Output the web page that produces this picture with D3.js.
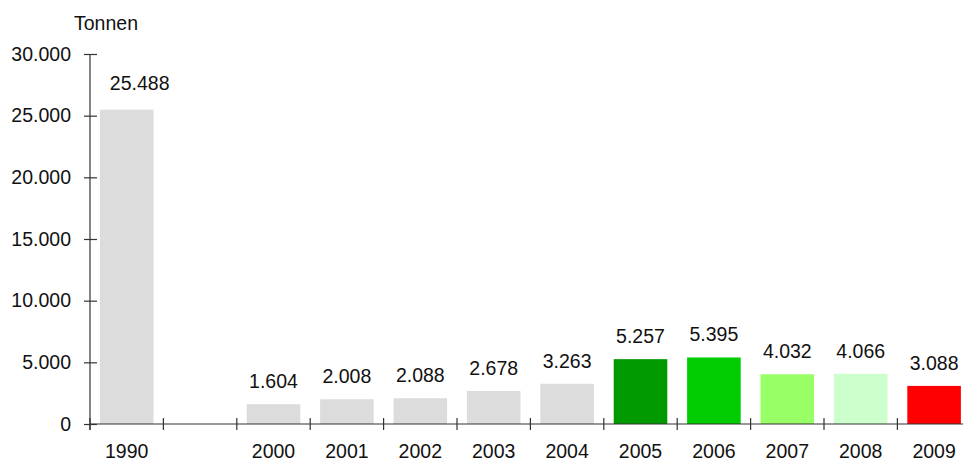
<!DOCTYPE html>
<html><head><meta charset="utf-8">
<script src="https://cdn.jsdelivr.net/npm/d3@7"></script>
<style>
html,body{margin:0;padding:0;background:#fff;overflow:hidden}
text{font-family:"Liberation Sans",Arial,Helvetica,sans-serif;fill:#111}
</style></head><body>
<svg id="c" width="963" height="462"></svg>
<script>
const categories = ["1990", "", "2000", "2001", "2002", "2003", "2004", "2005", "2006", "2007", "2008", "2009"];
const values = [25488, null, 1604, 2008, 2088, 2678, 3263, 5257, 5395, 4032, 4066, 3088];
const colors = ["#dcdcdc", null, "#dcdcdc", "#dcdcdc", "#dcdcdc", "#dcdcdc", "#dcdcdc", "#009900", "#00cc00", "#99ff66", "#ccffcc", "#ff0000"];
const yTicks = [0, 5000, 10000, 15000, 20000, 25000, 30000];
const yTitle = "Tonnen";

const loc = d3.formatLocale({decimal: ",", thousands: ".", grouping: [3], currency: ["", ""]});
const fmt = loc.format(",d");

const svg = d3.select("#c");
const x0 = 90, yTop = 54, yBot = 424, step = 73.4;
const x = d3.scaleBand().domain(d3.range(categories.length)).range([x0, x0 + step * categories.length]).paddingInner(0.27).paddingOuter(0.135);
const y = d3.scaleLinear().domain([0, 30000]).range([yBot, yTop]);
const fs = 19.5;

// bars
const idx = d3.range(categories.length).filter(i => values[i] != null);
svg.append("g").selectAll("rect").data(idx).join("rect")
  .attr("x", i => x(i)).attr("width", x.bandwidth())
  .attr("y", i => y(values[i])).attr("height", i => y(0) - y(values[i]))
  .attr("fill", i => colors[i]);

// value labels
svg.append("g").selectAll("text").data(idx).join("text")
  .attr("x", i => x(i) + x.bandwidth() / 2 + (i === 0 ? 13 : 0))
  .attr("y", i => y(values[i]) - (i === 0 ? 20 : 16))
  .attr("text-anchor", "middle").attr("font-size", fs)
  .text(i => fmt(values[i]));

// y axis
const ya = svg.append("g").attr("transform", `translate(${x0},0)`)
  .call(d3.axisLeft(y).tickValues(yTicks).tickFormat(fmt).tickSizeInner(6).tickSizeOuter(0).tickPadding(13));
ya.selectAll(".tick line").attr("x1", -6).attr("x2", 7);
ya.select(".domain").attr("d", `M0,${yTop}V${yBot + 6}`);
ya.selectAll("text").attr("font-size", fs).style("font-family", "inherit").attr("fill", "#111");
ya.selectAll("line,path").attr("stroke", "#333").attr("stroke-width", 1.2);

// x axis
const xa = svg.append("g").attr("transform", `translate(0,${yBot})`);
xa.append("line").attr("x1", x0).attr("x2", x0 + step * categories.length).attr("stroke", "#333").attr("stroke-width", 1.2);
xa.selectAll("line.t").data(d3.range(categories.length + 1)).join("line").attr("class", "t")
  .attr("x1", i => x0 + i * step).attr("x2", i => x0 + i * step)
  .attr("y1", -6).attr("y2", 6).attr("stroke", "#333").attr("stroke-width", 1.2);
xa.selectAll("text").data(d3.range(categories.length)).join("text")
  .attr("x", i => x(i) + x.bandwidth() / 2).attr("y", 34)
  .attr("text-anchor", "middle").attr("font-size", fs)
  .text(i => categories[i]);

// title
svg.append("text").attr("x", 74).attr("y", 30).attr("font-size", fs).text(yTitle);
</script></body></html>
